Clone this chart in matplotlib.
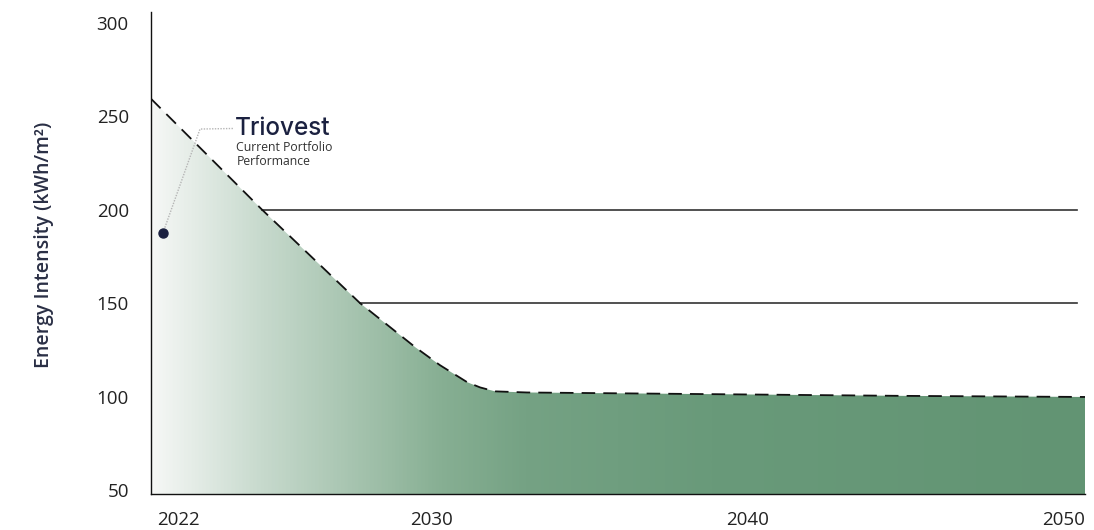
import numpy as np
import matplotlib
matplotlib.use("Agg")
import matplotlib.pyplot as plt
from matplotlib.colors import LinearSegmentedColormap
from matplotlib.patches import Polygon

# Energy intensity pathway (kWh/m²) by year
years = [2021.14, 2024.65, 2027.75, 2029.49, 2030.28, 2031.14, 2031.55,
         2032.02, 2033.03, 2036.29, 2044.83, 2050.68]
intensity = [259.3, 200.0, 150.0, 126.5, 116.8, 107.7, 104.9,
             102.8, 102.2, 101.7, 100.4, 99.8]

# Reference thresholds drawn as horizontal lines
thresholds = [200, 150]
threshold_start = [2024.65, 2027.75]
threshold_end = 2050.43

# Current portfolio marker
portfolio_year = 2021.52
portfolio_value = 187.6

x_ticks = [2022, 2030, 2040, 2050]
y_ticks = [50, 100, 150, 200, 250, 300]

plt.rcParams['font.family'] = ['Open Sans', 'DejaVu Sans']

fig = plt.figure(figsize=(10.94, 5.30), dpi=100)
ax = fig.add_axes([151 / 1094, 36 / 530, (1085 - 151) / 1094, (494 - 12) / 530])

xmin, xmax = 2021.14, 2050.68
ymin, ymax = 47.9, 305.7
ax.set_xlim(xmin, xmax)
ax.set_ylim(ymin, ymax)

# Horizontal gradient fill under the pathway
cmap = LinearSegmentedColormap.from_list(
    "pathway",
    [(0.00, "#f6f8f6"), (0.12, "#c6d9cc"), (0.22, "#a5c3ae"),
     (0.31, "#87af93"), (0.40, "#75a284"), (0.60, "#699a7a"),
     (1.00, "#629473")])
grad = np.linspace(0, 1, 512).reshape(1, -1)
img = ax.imshow(grad, cmap=cmap, aspect="auto", extent=[xmin, xmax, ymin, ymax],
                origin="lower", zorder=1)
verts = [(xmin, ymin)] + list(zip(years, intensity)) + [(xmax, ymin)]
clip = Polygon(verts, closed=True, facecolor="none", edgecolor="none",
               transform=ax.transData)
ax.add_patch(clip)
img.set_clip_path(clip)

# Dashed pathway line
ax.plot(years, intensity, color="#111111", lw=1.3, ls=(0, (7.5, 4.5)), zorder=3)

# Threshold lines
for val, start in zip(thresholds, threshold_start):
    ax.plot([start, threshold_end], [val, val], color="#333333", lw=1.2, zorder=2)

# Portfolio marker with leader line and label
ax.plot([portfolio_year], [portfolio_value], "o", color="#1b2140", ms=6.5, zorder=5)
ax.plot([portfolio_year, 2022.69, 2023.74], [portfolio_value, 243.1, 243.4],
        color="#b5b5b5", lw=1.0, ls=(0, (1, 1)), zorder=4)
ax.text(2023.80, 243.6, "Triovest", fontsize=17.5, fontweight="medium",
        color="#1b2140", va="center", ha="left", family=["Inter", "DejaVu Sans"])
ax.text(2023.84, 233.3, "Current Portfolio", fontsize=8.8, color="#333333",
        va="center", ha="left")
ax.text(2023.84, 225.8, "Performance", fontsize=8.8, color="#333333",
        va="center", ha="left")

ax.set_xticks(x_ticks)
ax.set_xticklabels([str(t) for t in x_ticks])
ax.set_yticks(y_ticks)
ax.tick_params(length=0, labelsize=13.5, colors="#222222")
ax.tick_params(axis="y", pad=16)
ax.tick_params(axis="x", pad=12)

for s in ["top", "right"]:
    ax.spines[s].set_visible(False)
for s in ["left", "bottom"]:
    ax.spines[s].set_color("#111111")
    ax.spines[s].set_linewidth(1.0)

ax.set_ylabel("Energy Intensity (kWh/m²)", fontsize=14, fontweight="semibold",
              color="#2a2f45", va="center")
ax.yaxis.set_label_coords(-0.1146, 0.5166)

fig.savefig("out.png", dpi=100, facecolor="white")
